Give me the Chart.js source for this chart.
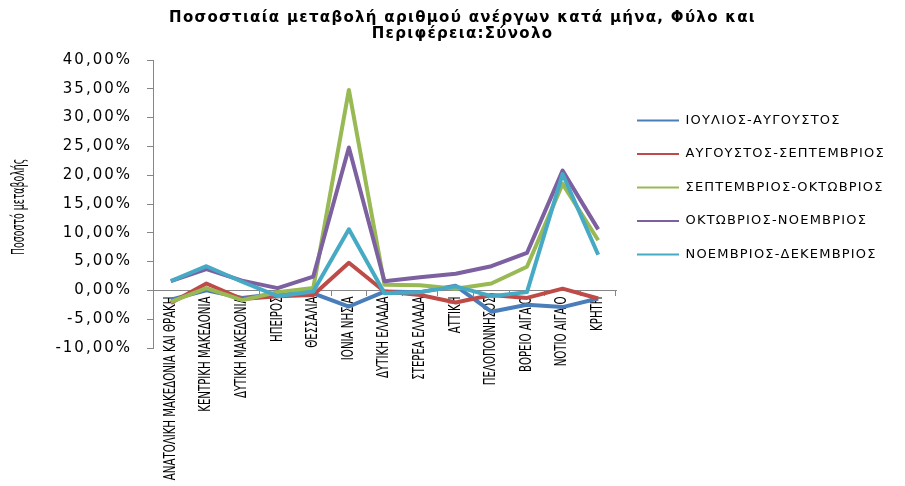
<!DOCTYPE html>
<html>
<head>
<meta charset="utf-8">
<script src="https://cdn.jsdelivr.net/npm/chart.js@4.4.1/dist/chart.umd.min.js"></script>
<style>
  html, body { margin: 0; padding: 0; background: #ffffff; }
  #wrap { width: 905px; height: 486px; position: relative; }
</style>
</head>
<body>
<div id="wrap"><canvas id="c" width="905" height="486"></canvas></div>
<script>
// ---- data ----
const titleLines = ['Ποσοστιαία μεταβολή αριθμού ανέργων κατά μήνα, Φύλο και', 'Περιφέρεια:Σύνολο'];
const yAxisTitle = 'Ποσοστό μεταβολής';
const categories = [
  'ΑΝΑΤΟΛΙΚΗ ΜΑΚΕΔΟΝΙΑ ΚΑΙ ΘΡΑΚΗ', 'ΚΕΝΤΡΙΚΗ ΜΑΚΕΔΟΝΙΑ', 'ΔΥΤΙΚΗ ΜΑΚΕΔΟΝΙΑ', 'ΗΠΕΙΡΟΣ',
  'ΘΕΣΣΑΛΙΑ', 'ΙΟΝΙΑ ΝΗΣΙΑ', 'ΔΥΤΙΚΗ ΕΛΛΑΔΑ', 'ΣΤΕΡΕΑ ΕΛΛΑΔΑ', 'ΑΤΤΙΚΗ',
  'ΠΕΛΟΠΟΝΝΗΣΟΣ', 'ΒΟΡΕΙΟ ΑΙΓΑΙΟ', 'ΝΟΤΙΟ ΑΙΓΑΙΟ', 'ΚΡΗΤΗ'
];
const seriesNames = [
  'ΙΟΥΛΙΟΣ-ΑΥΓΟΥΣΤΟΣ', 'ΑΥΓΟΥΣΤΟΣ-ΣΕΠΤΕΜΒΡΙΟΣ', 'ΣΕΠΤΕΜΒΡΙΟΣ-ΟΚΤΩΒΡΙΟΣ',
  'ΟΚΤΩΒΡΙΟΣ-ΝΟΕΜΒΡΙΟΣ', 'ΝΟΕΜΒΡΙΟΣ-ΔΕΚΕΜΒΡΙΟΣ'
];
const julAug = [-1.6, 0.0, -1.3, -0.6, -0.5, -2.8, -0.2, -0.3, 0.8, -3.7, -2.5, -2.9, -1.4];
const augSep = [-2.2, 1.2, -1.5, -1.0, -0.8, 4.8, -0.2, -0.8, -2.1, -0.8, -1.3, 0.3, -1.4];
const sepOct = [-2.0, 0.4, -1.7, -0.3, 0.4, 34.8, 1.0, 0.9, 0.3, 1.2, 4.1, 18.5, 8.7];
const octNov = [1.6, 3.7, 1.7, 0.4, 2.4, 24.8, 1.6, 2.3, 2.9, 4.2, 6.5, 20.8, 10.6];
const novDec = [1.6, 4.2, 1.5, -1.0, -0.2, 10.6, -0.5, -0.3, 0.7, -1.0, -0.3, 20.2, 6.2];
const yMin = -10, yMax = 40, yStep = 5;

// ---- styles ----
const seriesValues = [julAug, augSep, sepOct, octNov, novDec];
const seriesColors = ['#4A7EBB', '#BE4B48', '#98B954', '#7D60A0', '#46AAC5'];
const axisColor = '#868686';

Chart.defaults.color = '#000000';

function wrapDraw(obj, name, pre) {
  if (!obj || obj['_w_' + name]) return;
  const orig = obj[name].bind(obj);
  obj[name] = function (...args) {
    const ctx = obj.ctx;
    ctx.save();
    pre(ctx);
    const r = orig(...args);
    ctx.restore();
    return r;
  };
  obj['_w_' + name] = true;
}

const layoutFix = {
  id: 'layoutFix',
  afterInit(chart) {
    const lg = chart.legend;
    const origFit = lg.fit.bind(lg);
    lg.fit = function () { origFit(); this.width = 289; };
    wrapDraw(lg, 'draw', (ctx) => { ctx.letterSpacing = '1.2px'; });
    wrapDraw(chart.titleBlock, 'draw', (ctx) => { ctx.letterSpacing = '1.3px'; });
  },
  afterLayout(chart) {
    const lg = chart.legend;
    const w = lg.right - lg.left, h = lg.bottom - lg.top;
    lg.left = 616.5; lg.right = lg.left + w;
    lg.top = 93.5; lg.bottom = lg.top + h;
    const t = chart.titleBlock;
    t.left = 10; t.right = chart.width + 10;
    const ys = chart.scales.y, xs = chart.scales.x;
    wrapDraw(ys, 'drawLabels', (ctx) => { ctx.letterSpacing = '2px'; });
    wrapDraw(ys, 'drawTitle', (ctx) => {
      const c = (ys.top + ys.bottom) / 2 + 6;
      ctx.translate(0, c); ctx.scale(1, 0.52); ctx.translate(0, -c);
    });
    wrapDraw(xs, 'drawLabels', (ctx) => {
      const z = ys.getPixelForValue(0);
      ctx.translate(0, z); ctx.scale(1, 0.68); ctx.translate(0, -z);
    });
  }
};

new Chart(document.getElementById('c'), {
  type: 'line',
  data: {
    labels: categories,
    datasets: seriesValues.map((vals, i) => ({
      label: seriesNames[i],
      data: vals,
      borderColor: seriesColors[i],
      backgroundColor: seriesColors[i],
      borderWidth: 4,
      pointRadius: 0,
      pointHoverRadius: 0,
      tension: 0,
      fill: false,
      borderJoinStyle: 'round',
      order: seriesValues.length - i
    }))
  },
  options: {
    responsive: false,
    devicePixelRatio: 1,
    animation: false,
    layout: { padding: { left: 0, right: 0, top: 0, bottom: 138 } },
    plugins: {
      title: {
        display: true,
        text: titleLines,
        font: { family: 'DejaVu Sans', size: 15, weight: 'bold', lineHeight: '16px' },
        color: '#000',
        padding: { top: 10, bottom: 18 }
      },
      legend: {
        position: 'right',
        align: 'start',
        labels: {
          boxWidth: 42,
          boxHeight: 2,
          padding: 20.5,
          color: '#000',
          font: { family: 'DejaVu Sans', size: 13 },
          generateLabels(chart) {
            return chart.data.datasets.map((ds, i) => ({
              text: ds.label,
              fillStyle: ds.borderColor,
              strokeStyle: ds.borderColor,
              lineWidth: 0,
              hidden: false,
              datasetIndex: i,
              fontColor: '#000'
            }));
          }
        }
      },
      tooltip: { enabled: false }
    },
    scales: {
      x: {
        type: 'category',
        position: { y: 0 },
        offset: true,
        afterFit(s) { s.height = 10; },
        grid: { drawOnChartArea: false, drawTicks: true, tickLength: 5, offset: true, color: axisColor },
        border: { display: true, color: axisColor, width: 1 },
        ticks: {
          autoSkip: false,
          minRotation: 90,
          maxRotation: 90,
          padding: 4,
          color: '#000',
          font: { family: 'DejaVu Sans', size: 15 }
        }
      },
      y: {
        min: yMin,
        max: yMax,
        afterFit(s) { s.width = 153; },
        grid: { drawOnChartArea: false, drawTicks: true, tickLength: 6, color: axisColor },
        border: { display: true, color: axisColor, width: 1 },
        ticks: {
          stepSize: yStep,
          padding: 15,
          color: '#000',
          font: { family: 'DejaVu Sans', size: 15 },
          callback: (v) => v.toFixed(2).replace('.', ',') + '%'
        },
        title: {
          display: true,
          text: yAxisTitle,
          color: '#000',
          padding: { top: 9, bottom: 0 },
          font: { family: 'DejaVu Sans', size: 18 }
        }
      }
    }
  },
  plugins: [layoutFix]
});
</script>
</body>
</html>
